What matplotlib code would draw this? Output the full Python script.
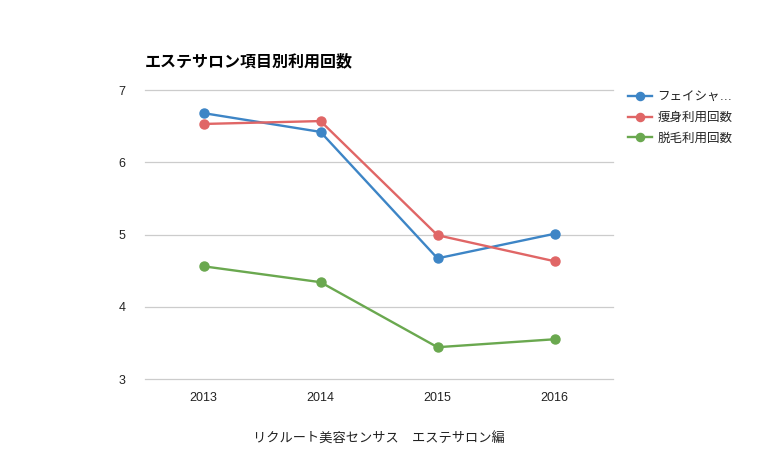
import matplotlib
matplotlib.use("Agg")
import matplotlib.pyplot as plt

plt.rcParams['font.family'] = ['Liberation Sans', 'Noto Sans CJK JP', 'DejaVu Sans']

years = ["2013", "2014", "2015", "2016"]
facial = [6.68, 6.42, 4.67, 5.01]
slimming = [6.53, 6.57, 4.99, 4.63]
hair_removal = [4.56, 4.34, 3.44, 3.55]
series_names = ["フェイシャ…", "痩身利用回数", "脱毛利用回数"]
yticks = [3, 4, 5, 6, 7]

colors = ["#3d85c6", "#e06666", "#6aa84f"]

W, H = 759, 469
fig = plt.figure(figsize=(W / 100, H / 100), dpi=100)
ax = fig.add_axes([145 / W, 1 - 379 / H, (613 - 145) / W, (379 - 90) / H])

x = list(range(len(years)))
for vals, name, c in zip([facial, slimming, hair_removal], series_names, colors):
    ax.plot(x, vals, color=c, lw=1.7, marker='o', markersize=6.5, label=name,
            zorder=3)

ax.set_xlim(-0.5, len(years) - 0.5)
ax.set_ylim(3, 7)
ax.set_yticks(yticks)
ax.set_yticklabels([str(t) for t in yticks])
ax.set_xticks(x)
ax.set_xticklabels(years)
ax.grid(axis='y', color='#cccccc', lw=0.9)
for gl in ax.get_ygridlines():
    gl.set_clip_on(False)
ax.set_axisbelow(True)
for s in ax.spines.values():
    s.set_visible(False)
ax.tick_params(axis='both', length=0, labelsize=9, colors='#222222')
ax.tick_params(axis='y', pad=14)
ax.tick_params(axis='x', pad=9)

ax.set_xlabel("リクルート美容センサス　エステサロン編", fontsize=9.5, style='italic',
              color='#222222', labelpad=21)

fig.text(145 / W, 1 - 61 / H, "エステサロン項目別利用回数", fontsize=11.5,
         fontweight='bold', va='center', ha='left', color='#000000')

leg = ax.legend(loc='upper left', bbox_to_anchor=(617 / W, 1 - 80 / H),
                bbox_transform=fig.transFigure, frameon=False, fontsize=9,
                handlelength=1.9, handletextpad=0.45, labelspacing=0.7,
                markerscale=0.9)
for t in leg.get_texts():
    t.set_color('#222222')

fig.savefig("out.png", dpi=100)
